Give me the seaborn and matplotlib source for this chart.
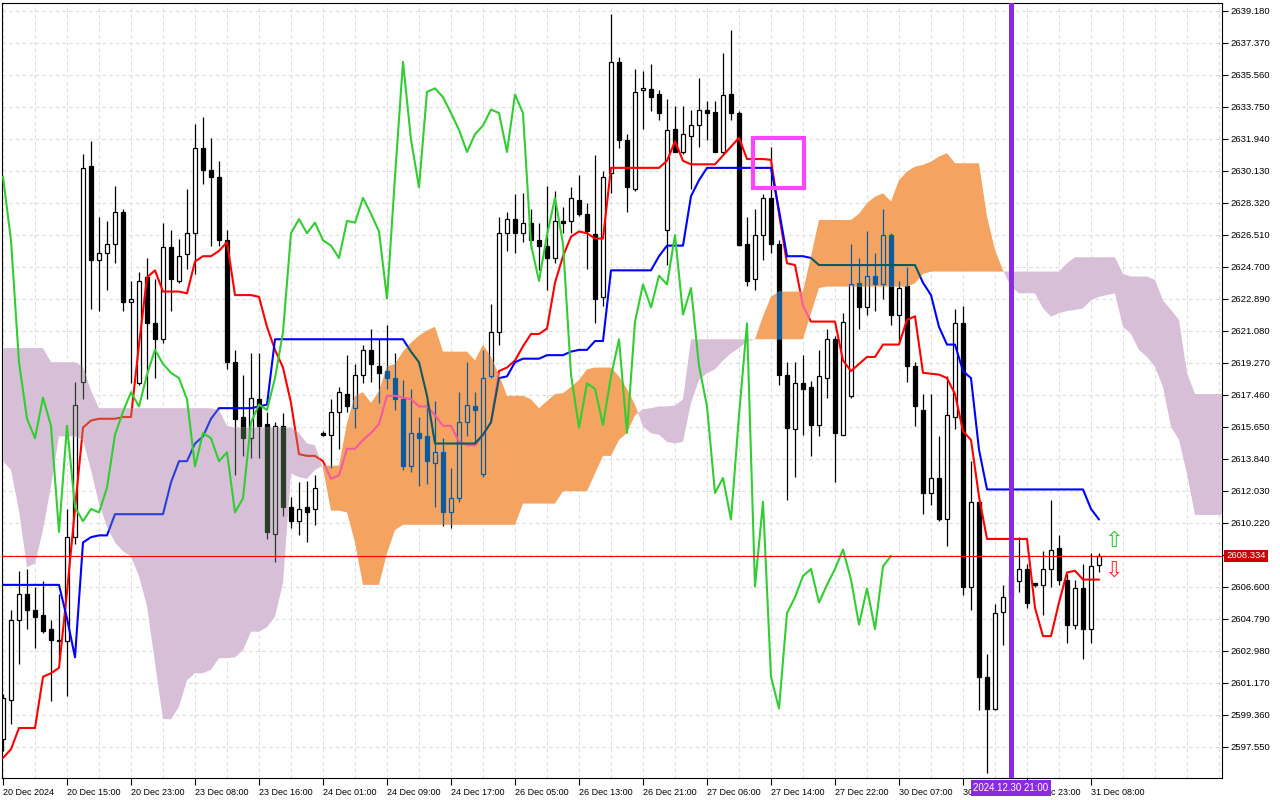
import numpy as np
import matplotlib
matplotlib.use("Agg")
import matplotlib.pyplot as plt
import matplotlib.transforms as mtransforms
from matplotlib.path import Path
from matplotlib.patches import PathPatch, Rectangle
import seaborn as sns

# H1 candles, bar 0 = 20 Dec 2024 07:00
opens = [
    2598.0, 2600.2, 2604.7, 2606.2, 2605.3, 2605.0, 2604.2, 2603.6, 2603.5, 2609.4,
    2618.2, 2630.4, 2625.1, 2625.5, 2626.0, 2627.8, 2622.7, 2618.1, 2624.1, 2621.5,
    2620.6, 2625.8, 2623.9, 2625.4, 2626.6, 2631.4, 2630.2, 2629.8, 2626.2, 2619.3,
    2616.2, 2615.0, 2617.2, 2615.8, 2609.6, 2615.7, 2611.1, 2610.3, 2611.1, 2611.0,
    2615.3, 2615.2, 2616.5, 2617.5, 2616.7, 2618.6, 2620.0, 2619.1, 2618.8, 2618.4,
    2617.2, 2613.4, 2615.3, 2615.1, 2613.6, 2614.2, 2610.8, 2611.6, 2615.9, 2616.8,
    2613.0, 2618.5, 2621.0, 2626.6, 2627.4, 2626.6, 2627.2, 2626.2, 2625.9, 2625.2,
    2627.3, 2627.3, 2628.5, 2627.7, 2626.55, 2623.0, 2630.0, 2636.3, 2631.9, 2629.1,
    2634.7, 2634.75, 2634.5, 2626.8, 2632.5, 2631.2, 2632.1, 2632.7, 2633.6, 2633.45,
    2631.2, 2634.5, 2633.4, 2626.0, 2624.0, 2626.5, 2628.6, 2626.0, 2618.6, 2615.5,
    2618.1, 2617.9, 2615.75, 2618.4, 2620.6, 2615.2, 2617.4, 2623.8, 2622.4, 2624.2,
    2623.7, 2626.5, 2622.0, 2623.6, 2619.1, 2616.6, 2611.9, 2612.75, 2610.4, 2616.2,
    2621.5, 2606.6, 2611.4, 2601.5, 2599.7, 2605.15, 2606.0, 2606.9, 2607.6, 2606.8,
    2606.7, 2607.6, 2608.8, 2606.96, 2604.45, 2606.5, 2604.2, 2607.8,
]
highs = [
    2600.5, 2605.3, 2607.5, 2607.6, 2606.6, 2606.9, 2604.7, 2606.2, 2611.0, 2618.2,
    2631.1, 2631.8, 2627.5, 2627.3, 2629.3, 2628.0, 2623.9, 2624.4, 2625.2, 2624.0,
    2627.2, 2626.8, 2626.3, 2629.1, 2632.8, 2633.2, 2632.0, 2630.7, 2626.8, 2620.0,
    2618.6, 2619.8, 2619.8, 2616.5, 2615.9, 2616.4, 2611.7, 2612.5, 2612.6, 2612.9,
    2615.4, 2617.2, 2617.9, 2619.7, 2619.2, 2620.3, 2621.2, 2620.6, 2621.4, 2619.8,
    2618.3, 2617.8, 2616.2, 2617.1, 2617.1, 2615.0, 2613.3, 2617.6, 2619.3, 2617.6,
    2620.0, 2622.6, 2627.5, 2627.8, 2628.8, 2628.9, 2628.0, 2627.2, 2629.3, 2629.0,
    2628.1, 2629.2, 2629.9, 2628.3, 2631.0, 2630.1, 2639.0, 2636.6, 2632.2, 2635.9,
    2635.8, 2636.2, 2634.7, 2634.2, 2633.8, 2633.8, 2633.6, 2635.4, 2634.1, 2634.1,
    2636.8, 2638.1, 2633.5, 2627.5, 2628.0, 2628.8, 2631.5, 2626.2, 2619.3, 2619.3,
    2619.7, 2618.25, 2620.0, 2621.2, 2620.8, 2622.1, 2626.0, 2625.2, 2626.7, 2625.5,
    2628.0, 2626.6, 2623.9, 2624.7, 2619.3, 2617.5, 2617.5, 2615.1, 2618.5, 2622.3,
    2622.5, 2613.7, 2611.5, 2602.8, 2605.6, 2606.7, 2608.6, 2609.4, 2607.9, 2606.8,
    2608.6, 2611.5, 2609.5, 2607.3, 2607.0, 2607.9, 2608.5, 2608.5,
]
lows = [
    2597.3, 2598.8, 2602.2, 2604.2, 2603.1, 2604.0, 2600.1, 2602.4, 2600.4, 2609.0,
    2617.2, 2622.3, 2622.2, 2623.4, 2624.9, 2622.2, 2618.1, 2618.0, 2617.2, 2618.4,
    2620.4, 2622.2, 2623.8, 2624.6, 2624.3, 2629.4, 2625.9, 2625.9, 2618.9, 2612.9,
    2614.0, 2613.9, 2613.9, 2609.3, 2608.0, 2610.6, 2609.9, 2609.5, 2609.1, 2610.1,
    2615.1, 2613.3, 2614.4, 2616.5, 2615.6, 2618.1, 2618.2, 2617.0, 2617.8, 2616.6,
    2613.2, 2613.1, 2612.3, 2612.4, 2611.1, 2610.05, 2609.9, 2611.4, 2615.1, 2614.7,
    2612.8, 2618.4, 2620.3, 2625.6, 2625.5, 2626.1, 2625.7, 2624.5, 2623.4, 2624.9,
    2626.6, 2626.6, 2627.6, 2624.6, 2621.5, 2622.5, 2628.9, 2631.4, 2627.8, 2629.0,
    2632.5, 2633.5, 2633.0, 2624.8, 2631.2, 2631.1, 2629.1, 2631.5, 2631.9, 2631.2,
    2631.1, 2633.0, 2625.9, 2623.6, 2623.4, 2625.1, 2625.5, 2618.0, 2611.5, 2612.8,
    2615.2, 2614.0, 2615.1, 2617.3, 2612.5, 2615.2, 2617.3, 2621.2, 2622.0, 2622.2,
    2622.9, 2621.4, 2620.4, 2618.2, 2615.7, 2610.7, 2611.2, 2610.3, 2608.9, 2615.5,
    2606.1, 2605.3, 2599.6, 2596.06, 2599.6, 2603.3, 2605.6, 2606.3, 2605.4, 2606.6,
    2605.0, 2606.6, 2606.7, 2603.4, 2604.2, 2602.5, 2603.4, 2607.4,
]
closes = [
    2600.3, 2604.7, 2606.2, 2605.3, 2604.9, 2604.1, 2603.6, 2603.5, 2609.4, 2616.9,
    2630.3, 2625.1, 2625.5, 2626.0, 2627.8, 2622.7, 2622.9, 2623.9, 2621.5, 2620.6,
    2625.8, 2624.0, 2625.3, 2626.6, 2631.4, 2630.2, 2629.8, 2626.2, 2619.3, 2616.1,
    2615.0, 2617.3, 2615.7, 2609.7, 2615.7, 2611.1, 2610.3, 2611.0, 2610.8, 2612.2,
    2615.2, 2616.5, 2617.6, 2616.8, 2618.6, 2620.0, 2619.2, 2618.7, 2618.4, 2617.2,
    2613.4, 2615.3, 2615.0, 2613.7, 2614.2, 2610.8, 2611.6, 2615.9, 2616.9, 2616.6,
    2618.4, 2621.0, 2626.6, 2627.4, 2626.6, 2627.2, 2626.2, 2625.9, 2625.2, 2627.3,
    2627.2, 2628.6, 2627.7, 2626.7, 2622.9, 2629.8, 2636.3, 2631.9, 2629.2, 2634.6,
    2634.8, 2634.3, 2633.4, 2632.45, 2631.2, 2632.2, 2632.7, 2633.6, 2633.4, 2631.2,
    2634.45, 2633.4, 2625.95, 2623.9, 2626.5, 2628.6, 2626.0, 2618.6, 2615.6, 2618.1,
    2617.8, 2615.75, 2618.5, 2620.6, 2615.3, 2621.6, 2623.7, 2622.4, 2624.2, 2623.7,
    2626.5, 2622.0, 2623.5, 2619.1, 2616.8, 2611.9, 2612.75, 2610.4, 2616.3, 2621.5,
    2606.6, 2611.4, 2601.5, 2599.7, 2605.1, 2606.0, 2607.2, 2607.6, 2605.7, 2606.7,
    2607.6, 2608.7, 2607.0, 2604.45, 2606.5, 2604.2, 2607.75, 2608.334,
]

# Ichimoku lines
tenkan = [
    2596.9, 2597.4, 2598.6, 2598.6, 2598.6, 2601.5, 2601.7, 2602.0, 2606.3, 2611.0,
    2615.6, 2616.0, 2616.1, 2616.1, 2616.1, 2616.2, 2616.2, 2620.3, 2624.1, 2624.5,
    2623.3, 2623.3, 2623.3, 2623.2, 2625.0, 2625.3, 2625.3, 2625.6, 2626.1, 2623.1,
    2623.1, 2623.1, 2623.0, 2621.3, 2620.0, 2619.0, 2617.0, 2614.1, 2614.0, 2614.0,
    2613.7, 2612.7, 2612.9, 2614.4, 2614.4, 2614.9, 2615.3, 2615.8, 2617.4, 2617.4,
    2617.3, 2617.2, 2616.8, 2616.8, 2616.3, 2615.7, 2615.7, 2614.8, 2614.6, 2614.6,
    2615.2, 2615.9, 2618.8, 2619.0, 2619.4, 2620.2, 2620.9, 2620.9, 2621.2, 2623.8,
    2625.3, 2626.4, 2626.7, 2626.6, 2626.3, 2626.3, 2630.3, 2630.3, 2630.3, 2630.3,
    2630.3, 2630.3, 2630.3, 2630.7, 2631.8, 2630.7, 2630.5, 2630.5, 2630.5, 2630.5,
    2631.0, 2631.5, 2632.0, 2630.8, 2630.8, 2630.8, 2630.75, 2627.7, 2624.9, 2624.8,
    2622.5, 2621.6, 2621.6, 2621.6, 2621.6, 2619.4, 2618.8, 2619.2, 2619.6, 2619.6,
    2620.3, 2620.3, 2620.3, 2621.7, 2621.9, 2618.7, 2618.65, 2618.6, 2618.4, 2617.5,
    2615.4, 2614.9, 2611.7, 2609.3, 2609.3, 2609.3, 2609.3, 2609.3, 2609.3, 2605.4,
    2603.8, 2603.8, 2605.7, 2607.4, 2607.5, 2607.0, 2607.0, 2607.0,
]
kijun = [
    2606.7, 2606.7, 2606.7, 2606.7, 2606.7, 2606.7, 2606.7, 2606.7, 2604.8, 2602.6,
    2609.1, 2609.4, 2609.5, 2609.5, 2610.7, 2610.7, 2610.7, 2610.7, 2610.7, 2610.7,
    2610.7, 2612.5, 2613.7, 2613.7, 2614.7, 2615.1, 2616.1, 2616.7, 2616.7, 2616.7,
    2616.7, 2616.7, 2616.8, 2616.9, 2620.6, 2620.6, 2620.6, 2620.6, 2620.6, 2620.6,
    2620.6, 2620.6, 2620.6, 2620.6, 2620.6, 2620.6, 2620.6, 2620.6, 2620.6, 2620.6,
    2620.6, 2619.9, 2619.3, 2617.4, 2614.7, 2614.7, 2614.7, 2614.7, 2614.7, 2614.7,
    2615.2, 2615.9, 2618.4, 2618.5, 2619.3, 2619.5, 2619.5, 2619.5, 2619.7, 2619.7,
    2619.7, 2619.9, 2620.0, 2620.0, 2620.5, 2620.5, 2624.5, 2624.5, 2624.5, 2624.5,
    2624.5, 2624.5, 2625.3, 2625.9, 2625.9, 2625.9, 2628.7, 2629.6, 2630.3, 2630.3,
    2630.3, 2630.3, 2630.3, 2630.3, 2630.3, 2630.3, 2630.3, 2627.9, 2625.3, 2625.3,
    2625.3, 2625.2, 2624.8, 2624.8, 2624.8, 2624.8, 2624.8, 2624.8, 2624.8, 2624.8,
    2624.8, 2624.8, 2624.8, 2624.8, 2624.8, 2623.8, 2623.1, 2621.3, 2620.3, 2620.3,
    2618.8, 2618.4, 2614.35, 2612.1, 2612.1, 2612.1, 2612.1, 2612.1, 2612.1, 2612.1,
    2612.1, 2612.1, 2612.1, 2612.1, 2612.1, 2612.1, 2611.0, 2610.4,
]
# cloud edges, already shifted 26 bars ahead
span_a = [
    2613.7, 2613.2, 2610.9, 2607.7, 2607.9, 2609.8, 2612.3, 2615.1, 2615.1, 2615.1,
    2614.9, 2613.2, 2611.3, 2610.0, 2609.1, 2608.6, 2608.3, 2607.2, 2605.5, 2602.3,
    2599.1, 2599.1, 2599.8, 2601.3, 2601.7, 2601.7, 2601.9, 2602.55, 2602.55, 2602.6,
    2603.0, 2604.05, 2604.05, 2604.3, 2604.9, 2606.8, 2613.0, 2612.8, 2612.7, 2613.2,
    2613.45, 2613.45, 2613.45, 2615.86, 2617.4, 2617.6, 2617.0, 2617.65, 2619.06, 2619.2,
    2619.9, 2620.4, 2620.8, 2621.1, 2621.3, 2619.9, 2619.9, 2619.9, 2619.9, 2619.4,
    2620.3, 2619.6, 2618.6, 2617.4, 2617.4, 2617.4, 2617.2, 2616.7, 2617.1, 2617.5,
    2617.55, 2617.9, 2618.3, 2618.9, 2619.0, 2619.0, 2619.0, 2618.5, 2617.8, 2616.9,
    2615.66, 2615.28, 2615.2, 2614.8, 2614.7, 2614.8, 2616.98, 2618.3, 2618.67, 2618.9,
    2619.4, 2619.8, 2620.1, 2620.47, 2620.6, 2621.9, 2623.0, 2623.3, 2623.3, 2623.3,
    2623.3, 2625.3, 2627.35, 2627.35, 2627.35, 2627.35, 2627.35, 2627.7, 2628.3, 2628.67,
    2628.86, 2628.4, 2629.6, 2630.09, 2630.37, 2630.47, 2630.65, 2630.94, 2631.13, 2630.56,
    2630.56, 2630.56, 2630.56, 2627.54, 2625.65, 2624.5, 2623.58, 2623.2, 2623.2, 2623.2,
    2622.35, 2621.88, 2622.07, 2622.2, 2622.26, 2622.35, 2622.8, 2623.0, 2623.1, 2623.2,
    2621.3, 2620.9, 2620.0, 2619.6, 2619.05, 2617.9, 2615.66, 2614.9, 2613.0, 2610.66,
    2610.66, 2610.66, 2610.66, 2610.66,
]
span_b = [
    2620.1, 2620.1, 2620.1, 2620.1, 2620.1, 2620.1, 2619.3, 2619.3, 2619.3, 2619.3,
    2619.05, 2617.7, 2616.7, 2616.7, 2616.7, 2616.7, 2616.7, 2616.7, 2616.7, 2616.7,
    2616.7, 2616.7, 2616.7, 2616.7, 2616.7, 2616.7, 2616.7, 2616.6, 2615.7, 2615.6,
    2615.6, 2615.6, 2615.6, 2615.6, 2615.6, 2615.6, 2615.6, 2615.3, 2614.7, 2614.6,
    2613.3, 2610.9, 2610.9, 2610.8, 2609.1, 2606.7, 2606.7, 2606.7, 2608.5, 2609.8,
    2610.1, 2610.1, 2610.1, 2610.1, 2610.1, 2610.1, 2610.1, 2610.1, 2610.1, 2610.1,
    2610.1, 2610.1, 2610.1, 2610.1, 2610.1, 2611.3, 2611.3, 2611.3, 2611.3, 2611.3,
    2612.0, 2612.0, 2612.0, 2612.0, 2613.0, 2614.0, 2614.0, 2614.9, 2615.3, 2616.3,
    2616.64, 2616.7, 2616.8, 2616.8, 2616.85, 2617.2, 2620.6, 2620.6, 2620.6, 2620.6,
    2620.6, 2620.6, 2620.6, 2620.6, 2620.6, 2620.6, 2620.6, 2620.6, 2620.6, 2620.6,
    2620.6, 2622.07, 2623.5, 2623.58, 2623.58, 2623.58, 2623.58, 2623.58, 2623.58, 2623.58,
    2623.58, 2623.58, 2623.58, 2623.58, 2623.77, 2624.3, 2624.43, 2624.43, 2624.43, 2624.43,
    2624.43, 2624.43, 2624.43, 2624.43, 2624.43, 2624.43, 2624.43, 2624.43, 2624.43, 2624.43,
    2624.43, 2624.43, 2624.43, 2624.9, 2625.24, 2625.24, 2625.24, 2625.24, 2625.24, 2625.24,
    2624.3, 2624.15, 2624.15, 2624.15, 2623.96, 2622.8, 2622.26, 2621.7, 2618.7, 2617.5,
    2617.5, 2617.5, 2617.5, 2617.5,
]

bid = 2608.334
marker_bar = 126
marker_text = "2024.12.30 21:00"

ytick_text = ["2597.550", "2599.360", "2601.170", "2602.980", "2604.790", "2606.600",
              "2608.410", "2610.220", "2612.030", "2613.840", "2615.650", "2617.460",
              "2619.270", "2621.080", "2622.890", "2624.700", "2626.510", "2628.320",
              "2630.130", "2631.940", "2633.750", "2635.560", "2637.370", "2639.180"]
xtick_text = ["20 Dec 2024", "20 Dec 15:00", "20 Dec 23:00", "23 Dec 08:00", "23 Dec 16:00",
              "24 Dec 01:00", "24 Dec 09:00", "24 Dec 17:00", "26 Dec 05:00", "26 Dec 13:00",
              "26 Dec 21:00", "27 Dec 06:00", "27 Dec 14:00", "27 Dec 22:00", "30 Dec 07:00",
              "30 Dec 15:00", "30 Dec 23:00", "31 Dec 08:00"]
xtick_pos = list(range(0, 8 * len(xtick_text), 8))

sns.set_style("white")
plt.rcParams["font.family"] = ["Liberation Sans", "DejaVu Sans"]

o = np.array(opens)
h = np.array(highs)
l = np.array(lows)
c = np.array(closes)
idx = np.arange(len(c))
up = c >= o
body_lo = np.minimum(o, c)
body_hi = np.maximum(o, c)
body_h = np.maximum(body_hi - body_lo, 0.04)

fig = plt.figure(figsize=(12.8, 8), dpi=100)
ax = fig.add_axes([2 / 1280, 22 / 800, 1220 / 1280, 775 / 800])


def candles(wick, bear, bull_face, zo, clip=None):
    arts = [ax.vlines(idx, body_hi, h, colors=wick, linewidth=0.9, zorder=zo),
            ax.vlines(idx, l, body_lo, colors=wick, linewidth=0.9, zorder=zo)]
    arts += list(ax.bar(idx[up], body_h[up], bottom=body_lo[up], width=0.62,
                        facecolor=bull_face, edgecolor=wick, linewidth=0.9, zorder=zo + 0.1))
    arts += list(ax.bar(idx[~up], body_h[~up], bottom=body_lo[~up], width=0.62,
                        facecolor=bear, edgecolor=wick, linewidth=0.9, zorder=zo + 0.1))
    if clip is not None:
        for a in arts:
            a.set_clip_path(clip)


def line(x, y, color, zo, clip=None, lw=1.5):
    sns.lineplot(x=x, y=y, color=color, lw=lw, zorder=zo, ax=ax,
                 estimator=None, errorbar=None)
    if clip is not None:
        ax.lines[-1].set_clip_path(clip)


candles("black", "black", "white", 2)
line(idx, tenkan, "#ff0000", 3)
line(idx, kijun, "#0000ff", 3)

# kumo
xc = np.arange(len(span_a))
sa = np.array(span_a)
sb = np.array(span_b)
fill_o = ax.fill_between(xc, sa, sb, where=sa >= sb, interpolate=True,
                         color="#f4a460", linewidth=0, zorder=4)
fill_p = ax.fill_between(xc, sa, sb, where=sa < sb, interpolate=True,
                         color="#d8bfd8", linewidth=0, zorder=4)

# terminal draws the cloud in xor mode: redraw what lies under it
for coll, dark, red, blue in [(fill_o, "#0b5b9f", "#f45b9f", "#0b5b60"),
                              (fill_p, "#274027", "#d84027", "#2740d8")]:
    clip = PathPatch(Path.make_compound_path(*coll.get_paths()), transform=ax.transData)
    candles(dark, dark, "none", 5, clip)
    line(idx, tenkan, red, 5.5, clip)
    line(idx, kijun, blue, 5.5, clip)

# chikou span
line(idx[:len(c) - 26], c[26:], "#32cd32", 6)

ax.axhline(bid, color="#ff0000", lw=0.8, zorder=6.5)
ax.axvline(marker_bar, color="#8a2be2", lw=3.6, zorder=8)
ax.add_patch(Rectangle((93.7, 2629.15), 6.4, 2.85, fill=False,
                       edgecolor="#ff44ff", linewidth=3, zorder=9))
ax.text(138.8, 2609.2, "\u21e7", color="#33cc33", fontsize=16, ha="center",
        va="center", family="DejaVu Sans", zorder=9)
ax.text(138.8, 2607.5, "\u21e9", color="#ff3333", fontsize=16, ha="center",
        va="center", family="DejaVu Sans", zorder=9)

ax.set_xlim(-0.125, 152.375)
ax.set_ylim(2595.77, 2639.63)
ax.set_xlabel("")
ax.set_ylabel("")

ax.yaxis.tick_right()
ax.set_yticks([float(t) for t in ytick_text])
ax.set_yticklabels([t if t != "2608.410" else "" for t in ytick_text])
ax.set_xticks(xtick_pos)
ax.set_xticklabels(xtick_text, ha="left")
ax.set_xticks(np.arange(0, 153, 4), minor=True)
ax.tick_params(axis="y", which="major", right=True, left=False, length=4, width=0.8,
               direction="out", labelsize=6.8, pad=2, colors="black")
ax.tick_params(axis="x", which="major", bottom=True, length=5, width=0.8,
               direction="out", labelsize=6.5, pad=2, colors="black")
ax.tick_params(axis="x", which="minor", length=0)
ax.grid(True, which="both", axis="x", color="#dcdcdc", ls=(0, (3, 3)), lw=0.8)
ax.grid(True, which="major", axis="y", color="#dcdcdc", ls=(0, (3, 3)), lw=0.8)
ax.set_axisbelow(True)
for s in ax.spines.values():
    s.set_visible(True)
    s.set_color("black")
    s.set_linewidth(0.8)

trans = mtransforms.blended_transform_factory(ax.transAxes, ax.transData)
ax.annotate(f"{bid:.3f}", xy=(1, bid), xycoords=trans, xytext=(3, 0),
            textcoords="offset points", ha="left", va="center", color="white",
            fontsize=6.8, bbox=dict(boxstyle="square,pad=0.2", fc="#cc0000", ec="none"),
            annotation_clip=False, zorder=10)
ax.annotate(marker_text, xy=(marker_bar, 0), xycoords=("data", "axes fraction"),
            xytext=(0, -3.5), textcoords="offset points", ha="center", va="top",
            color="white", fontsize=7,
            bbox=dict(boxstyle="square,pad=0.3", fc="#8a2be2", ec="none"),
            annotation_clip=False, zorder=10)

fig.savefig("out.png", dpi=100, facecolor="white")
